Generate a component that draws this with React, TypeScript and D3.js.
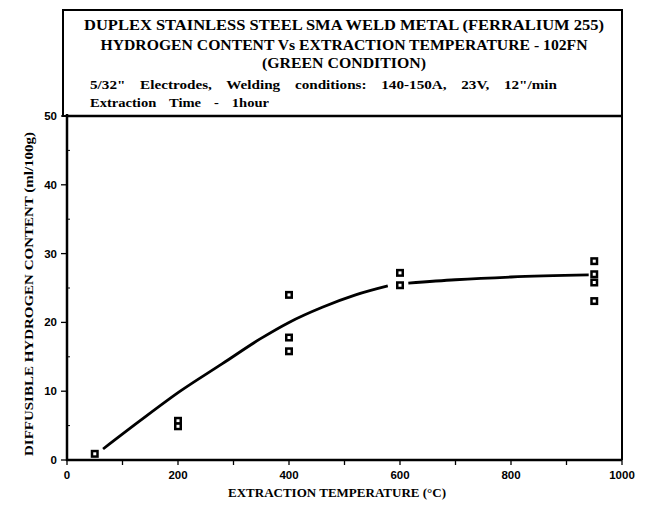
import React from "react";
import * as d3 from "d3";

const titleLines = [
  "DUPLEX STAINLESS STEEL SMA WELD METAL (FERRALIUM 255)",
  "HYDROGEN CONTENT Vs EXTRACTION TEMPERATURE - 102FN",
  "(GREEN CONDITION)",
];
const noteLines = [
  "5/32\" Electrodes, Welding conditions: 140-150A, 23V, 12\"/min",
  "Extraction Time - 1hour",
];
const xTicks = [0, 200, 400, 600, 800, 1000];
const yTicks = [0, 10, 20, 30, 40, 50];

const pointTemp = [50, 200, 200, 400, 400, 400, 600, 600, 950, 950, 950, 950];
const pointH2 = [0.9, 5.7, 4.9, 24.0, 17.8, 15.8, 27.2, 25.4, 28.9, 27.0, 25.8, 23.1];

const curveTempA = [65, 130, 204, 280, 348, 400, 460, 520, 578];
const curveH2A = [1.6, 5.6, 10.0, 14.0, 17.6, 20.0, 22.2, 24.0, 25.3];
const curveTempB = [615, 700, 800, 940];
const curveH2B = [25.7, 26.2, 26.6, 26.9];

export default function App() {
  const W = 655, H = 509;
  const x = d3.scaleLinear().domain([0, 1000]).range([67, 622]);
  const y = d3.scaleLinear().domain([0, 50]).range([460, 116]);
  const line = d3
    .line<[number, number]>()
    .x((d) => x(d[0]))
    .y((d) => y(d[1]))
    .curve(d3.curveMonotoneX);
  const segA = curveTempA.map((t, i) => [t, curveH2A[i]] as [number, number]);
  const segB = curveTempB.map((t, i) => [t, curveH2B[i]] as [number, number]);
  const serif = "'Liberation Serif', 'DejaVu Serif', serif";
  const sans = "'Liberation Sans', Arial, sans-serif";
  const xMinor = d3.range(0, 1001, 100);
  const yMinor = d3.range(5, 50, 10);

  const titleY = [30, 50, 68];
  const titleLen = [520, 487, 164];
  const noteY = [89, 107];
  const noteLen = [467, 179];
  const noteWS = [9, 8];

  return (
    <svg
      width={W}
      height={H}
      style={{ position: "absolute", left: 0, top: 0, background: "#fff" }}
    >
      <rect x={0} y={0} width={W} height={H} fill="#fff" />
      {/* title box */}
      <rect x={63} y={10} width={622 - 63} height={116 - 10} fill="none" stroke="#000" strokeWidth={2} />
      {titleLines.map((t, i) => (
        <text
          key={t}
          x={344}
          y={titleY[i]}
          textAnchor="middle"
          fontFamily={serif}
          fontWeight="bold"
          fontSize={15}
          textLength={titleLen[i]}
          lengthAdjust="spacingAndGlyphs"
        >
          {t}
        </text>
      ))}
      {noteLines.map((t, i) => (
        <text
          key={t}
          x={90}
          y={noteY[i]}
          fontFamily={serif}
          fontWeight="bold"
          fontSize={12.5}
          wordSpacing={noteWS[i]}
          textLength={noteLen[i]}
          lengthAdjust="spacingAndGlyphs"
        >
          {t}
        </text>
      ))}
      {/* plot frame */}
      <line x1={x(0)} x2={x(1000)} y1={y(50)} y2={y(50)} stroke="#000" strokeWidth={2.5} />
      <line x1={x(1000)} x2={x(1000)} y1={y(50)} y2={y(0)} stroke="#000" strokeWidth={2} />
      <line x1={x(0)} x2={x(0)} y1={y(50) - 2} y2={y(0) + 1} stroke="#000" strokeWidth={2.5} />
      <line x1={x(0) - 1} x2={x(1000)} y1={y(0)} y2={y(0)} stroke="#000" strokeWidth={2.5} />
      {/* x ticks */}
      {xMinor.map((v) => (
        <line key={"xt" + v} x1={x(v)} x2={x(v)} y1={y(0)} y2={y(0) + 5} stroke="#000" strokeWidth={1.3} />
      ))}
      {xTicks.map((v) => (
        <text key={"xl" + v} x={x(v)} y={y(0) + 19} textAnchor="middle" fontFamily={sans} fontWeight="bold" fontSize={11.5}>
          {v}
        </text>
      ))}
      {/* y ticks */}
      {yTicks.map((v) => (
        <line key={"yt" + v} x1={x(0) - 6} x2={x(0)} y1={y(v)} y2={y(v)} stroke="#000" strokeWidth={1.3} />
      ))}
      {yMinor.map((v) => (
        <line key={"ym" + v} x1={x(0)} x2={x(0) + 3} y1={y(v)} y2={y(v)} stroke="#000" strokeWidth={1} />
      ))}
      {yTicks.map((v) => (
        <text key={"yl" + v} x={x(0) - 10} y={y(v) + 4} textAnchor="end" fontFamily={sans} fontWeight="bold" fontSize={11.5}>
          {v}
        </text>
      ))}
      {/* axis titles */}
      <text
        x={337}
        y={497}
        textAnchor="middle"
        fontFamily={serif}
        fontWeight="bold"
        fontSize={13}
        textLength={218}
        lengthAdjust="spacingAndGlyphs"
      >
        EXTRACTION TEMPERATURE (°C)
      </text>
      <text
        transform={`translate(33, ${(132 + 456) / 2}) rotate(-90)`}
        textAnchor="middle"
        fontFamily={serif}
        fontWeight="bold"
        fontSize={13}
        textLength={324}
        lengthAdjust="spacingAndGlyphs"
      >
        DIFFUSIBLE HYDROGEN CONTENT (ml/100g)
      </text>
      {/* fitted curve */}
      <path d={line(segA) || ""} fill="none" stroke="#000" strokeWidth={2.8} />
      <path d={line(segB) || ""} fill="none" stroke="#000" strokeWidth={2.8} />
      {/* data points */}
      {pointTemp.map((t, i) => (
        <g key={"p" + i}>
          <rect x={x(t) - 4} y={y(pointH2[i]) - 4} width={8} height={8} fill="#000" />
          <rect x={x(t) - 1.5} y={y(pointH2[i]) - 1.5} width={3} height={3} fill="#fff" />
        </g>
      ))}
    </svg>
  );
}
